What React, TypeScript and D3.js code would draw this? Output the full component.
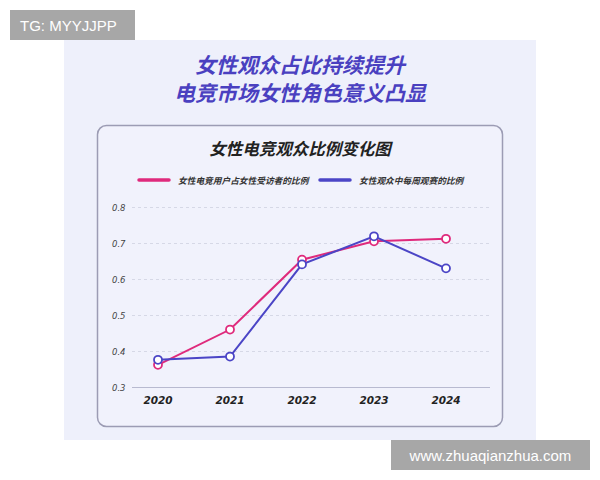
import { useEffect, useRef } from 'react';
import * as d3 from 'd3';

const years = ['2020', '2021', '2022', '2023', '2024'];
const femaleUserShare = [0.363, 0.461, 0.655, 0.706, 0.713];
const weeklyViewerShare = [0.377, 0.386, 0.642, 0.72, 0.631];
const yTicks = [0.3, 0.4, 0.5, 0.6, 0.7, 0.8];
const seriesNames = ['女性电竞用户占女性受访者的比例', '女性观众中每周观赛的比例'];
const seriesColors = ['#df2a7c', '#4b45c6'];

const titleLines = ['女性观众占比持续提升', '电竞市场女性角色意义凸显'];
const chartTitle = '女性电竞观众比例变化图';

const W = 600;
const H = 480;
const CJK = '"Noto Sans CJK SC", "Noto Sans", sans-serif';

export default function App() {
  const svgRef = useRef<SVGSVGElement>(null);

  useEffect(() => {
    if (!svgRef.current) return;
    const svg = d3.select(svgRef.current);
    svg.selectAll('*').remove();

    svg.append('rect').attr('width', W).attr('height', H).attr('fill', '#ffffff');

    // outer panel
    svg.append('rect')
      .attr('x', 64).attr('y', 40).attr('width', 472).attr('height', 400)
      .attr('fill', '#eef0fb');

    // headline
    titleLines.forEach((t, i) => {
      svg.append('text')
        .attr('x', 300).attr('y', 63.5 + i * 28)
        .attr('text-anchor', 'middle').attr('dominant-baseline', 'central')
        .attr('font-family', CJK).attr('font-size', 21).attr('font-weight', 700)
        .attr('font-style', 'italic')
        .attr('fill', '#4a40c0')
        .text(t);
    });

    // card
    svg.append('rect')
      .attr('x', 97.5).attr('y', 125.5).attr('width', 405).attr('height', 301)
      .attr('rx', 9)
      .attr('fill', '#f1f2fc')
      .attr('stroke', '#9c9cb4').attr('stroke-width', 1.5);

    svg.append('text')
      .attr('x', 300).attr('y', 148)
      .attr('text-anchor', 'middle').attr('dominant-baseline', 'central')
      .attr('font-family', CJK).attr('font-size', 16.5).attr('font-weight', 700)
      .attr('font-style', 'italic')
      .attr('fill', '#222')
      .text(chartTitle);

    // legend
    const legendX = [139, 320];
    seriesNames.forEach((name, i) => {
      const g = svg.append('g').attr('transform', `translate(${legendX[i]},180)`);
      g.append('line')
        .attr('x1', 0).attr('x2', 30).attr('y1', 0).attr('y2', 0)
        .attr('stroke', seriesColors[i]).attr('stroke-width', 3.5)
        .attr('stroke-linecap', 'round');
      g.append('text')
        .attr('x', 39).attr('y', 0)
        .attr('dominant-baseline', 'central')
        .attr('font-family', CJK).attr('font-size', 8.7).attr('font-weight', 700)
        .attr('font-style', 'italic')
        .attr('fill', '#333')
        .text(name);
    });

    const x = d3.scalePoint<string>().domain(years).range([158, 446]);
    const y = d3.scaleLinear().domain([0.3, 0.8]).range([387.5, 207.5]);

    // grid
    const grid = svg.append('g');
    yTicks.forEach(t => {
      grid.append('line')
        .attr('x1', 132).attr('x2', 490)
        .attr('y1', y(t)).attr('y2', y(t))
        .attr('stroke', t === 0.3 ? '#b8bad0' : '#d6d8e6')
        .attr('stroke-width', 1)
        .attr('stroke-dasharray', t === 0.3 ? null : '3,3');
      grid.append('text')
        .attr('x', 112).attr('y', y(t))
        .attr('dominant-baseline', 'central')
        .attr('font-family', '"DejaVu Sans", sans-serif').attr('font-size', 8.5)
        .attr('font-style', 'italic')
        .attr('fill', '#444')
        .text(d3.format('.1f')(t));
    });

    years.forEach(yr => {
      svg.append('text')
        .attr('x', x(yr)!).attr('y', 399.5)
        .attr('text-anchor', 'middle').attr('dominant-baseline', 'central')
        .attr('font-family', '"DejaVu Sans", sans-serif').attr('font-size', 10.5)
        .attr('font-weight', 700).attr('font-style', 'italic')
        .attr('fill', '#222')
        .text(yr);
    });

    const line = d3.line<number>()
      .x((_, i) => x(years[i])!)
      .y(d => y(d));

    [femaleUserShare, weeklyViewerShare].forEach((vals, i) => {
      svg.append('path')
        .attr('d', line(vals)!)
        .attr('fill', 'none')
        .attr('stroke', seriesColors[i]).attr('stroke-width', 2);
    });
    [femaleUserShare, weeklyViewerShare].forEach((vals, i) => {
      svg.append('g').selectAll('circle')
        .data(vals)
        .join('circle')
        .attr('cx', (_, j) => x(years[j])!)
        .attr('cy', d => y(d))
        .attr('r', 4)
        .attr('fill', '#fff')
        .attr('stroke', seriesColors[i]).attr('stroke-width', 1.8);
    });

    // watermarks
    svg.append('rect').attr('x', 10).attr('y', 10).attr('width', 125).attr('height', 30).attr('fill', '#a7a7a7');
    svg.append('text')
      .attr('x', 20).attr('y', 25.5).attr('dominant-baseline', 'central')
      .attr('font-family', '"Liberation Sans", Arial, sans-serif').attr('font-size', 15)
      .attr('fill', '#fff')
      .text('TG: MYYJJPP');
    svg.append('rect').attr('x', 391).attr('y', 440).attr('width', 199).attr('height', 30).attr('fill', '#a7a7a7');
    svg.append('text')
      .attr('x', 490.5).attr('y', 455.5).attr('text-anchor', 'middle').attr('dominant-baseline', 'central')
      .attr('font-family', '"Liberation Sans", Arial, sans-serif').attr('font-size', 15)
      .attr('fill', '#fff')
      .text('www.zhuaqianzhua.com');
  }, []);

  return (
    <div style={{ position: 'absolute', left: 0, top: 0 }}>
      <svg ref={svgRef} width={W} height={H} style={{ display: 'block' }} />
    </div>
  );
}
